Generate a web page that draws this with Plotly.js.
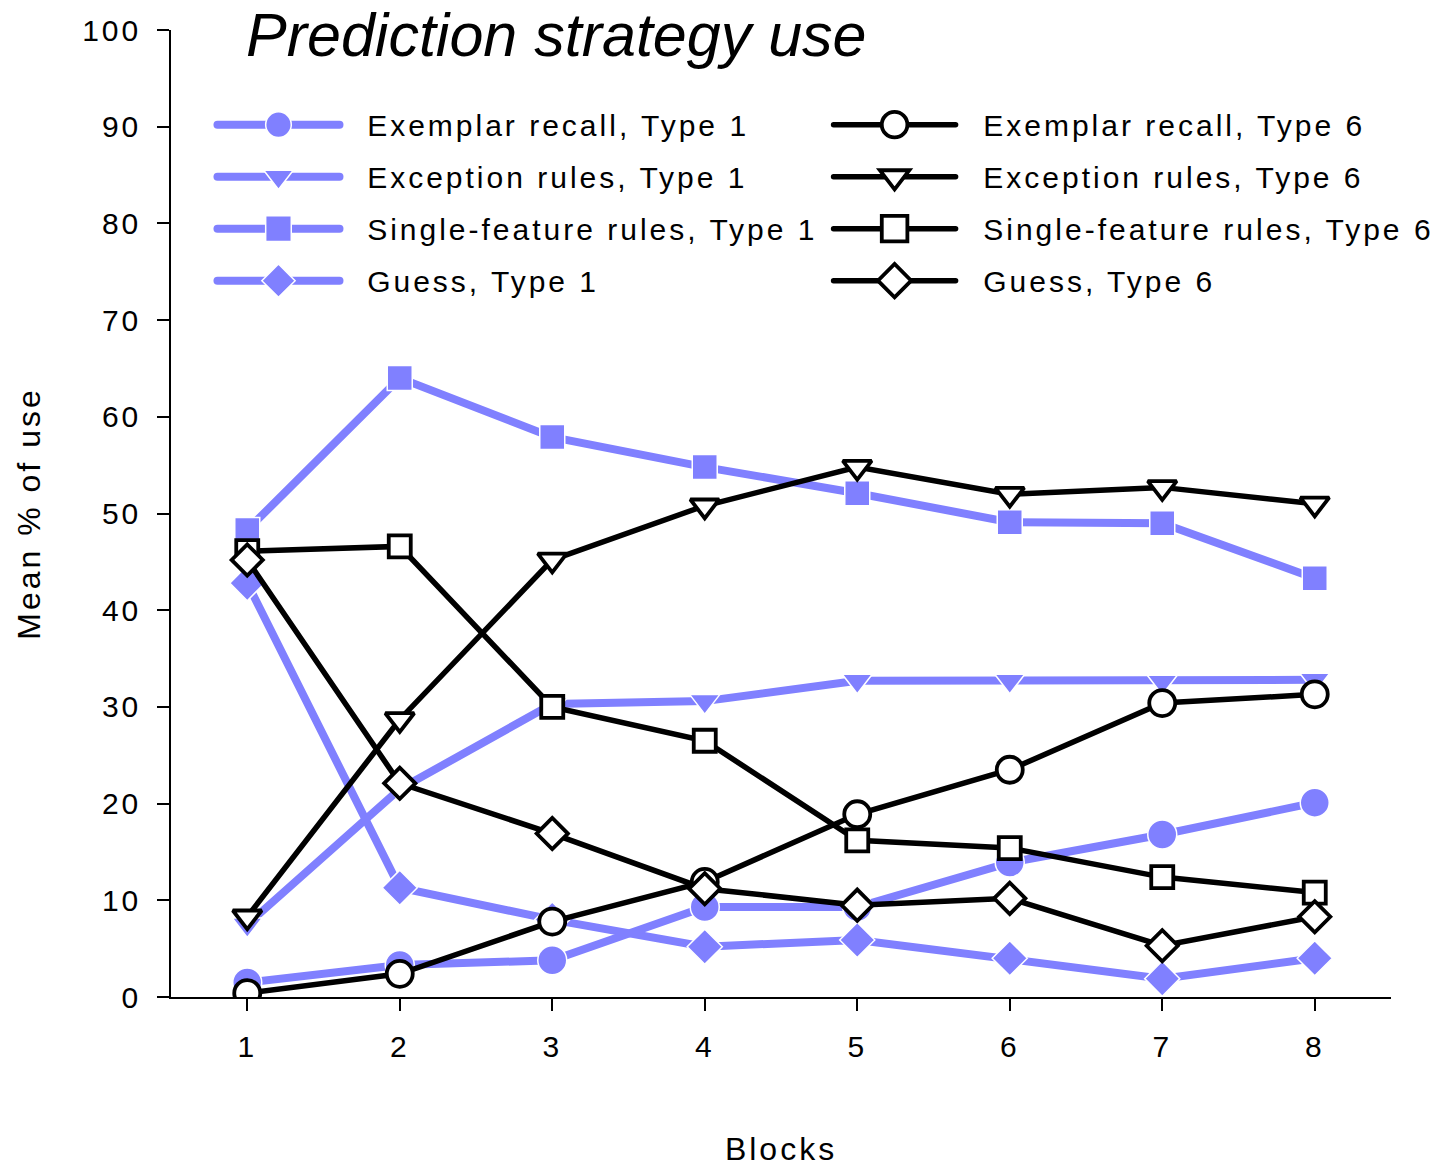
<!DOCTYPE html>
<html>
<head>
<meta charset="utf-8">
<script src="https://cdn.plot.ly/plotly-3.0.1.min.js"></script>
<style>
  html, body { margin: 0; padding: 0; background: #fff; }
  #chart { width: 1439px; height: 1167px; }
  .xtick text, .ytick text, .legendtext, .legend2text, .xtitle, .ytitle { letter-spacing: 3px; }
  .legendlines path { stroke-linecap: round; }
</style>
</head>
<body>
<div id="chart"></div>
<script>
// Mean percentage of use of each prediction strategy, per training block
const blocks = [1, 2, 3, 4, 5, 6, 7, 8];

const exemplarType1  = [1.5, 3.3, 3.8, 9.3, 9.3, 13.9, 16.8, 20.1];
const exceptionType1 = [7.5, 21.5, 30.3, 30.6, 32.7, 32.7, 32.6, 32.8];
const singleType1    = [48.3, 64.0, 57.9, 54.8, 52.1, 49.1, 49.0, 43.3];
const guessType1     = [42.8, 11.3, 8.0, 5.2, 5.9, 4.0, 1.9, 4.0];

const exemplarType6  = [0.4, 2.4, 7.8, 11.9, 18.9, 23.5, 30.4, 31.3];
const exceptionType6 = [8.3, 28.7, 45.2, 50.8, 54.8, 52.0, 52.7, 51.0];
const singleType6    = [46.1, 46.6, 30.0, 26.5, 16.2, 15.4, 12.4, 10.8];
const guessType6     = [45.2, 22.1, 16.9, 11.2, 9.5, 10.2, 5.3, 8.3];

const tickLabels = ['1', '2', '3', '4', '5', '6', '7', '8'];

const FONT = '"Liberation Sans", Arial, Helvetica, sans-serif';
const BLUE = '#8080ff';
const pad = '\u00a0\u00a0';

function type1Trace(name, y, symbol, size) {
  return {
    x: blocks, y: y, name: pad + name, type: 'scatter', mode: 'lines+markers',
    legend: 'legend', legendgroup: name,
    line: { color: BLUE, width: 8 },
    marker: { symbol: symbol, size: size, color: BLUE, line: { color: '#ffffff', width: 1.5 } },
    hoverinfo: 'x+y+name'
  };
}

function type6Trace(name, y, symbol, size) {
  return {
    x: blocks, y: y, name: pad + name, type: 'scatter', mode: 'lines+markers',
    legend: 'legend2', legendgroup: name,
    line: { color: '#000000', width: 5.5 },
    marker: { symbol: symbol, size: size, color: '#ffffff', line: { color: '#000000', width: 3.8 } },
    hoverinfo: 'x+y+name'
  };
}

const data = [
  type1Trace('Exemplar recall, Type 1', exemplarType1, 'circle', 29),
  type1Trace('Exception rules, Type 1', exceptionType1, 'triangle-down', 26),
  type1Trace('Single-feature rules, Type 1', singleType1, 'square', 25),
  type1Trace('Guess, Type 1', guessType1, 'diamond', 27),
  type6Trace('Exemplar recall, Type 6', exemplarType6, 'circle', 26),
  type6Trace('Exception rules, Type 6', exceptionType6, 'triangle-down', 25),
  type6Trace('Single-feature rules, Type 6', singleType6, 'square', 22),
  type6Trace('Guess, Type 6', guessType6, 'diamond', 24)
];

const legendCommon = {
  xanchor: 'left', yanchor: 'top', y: 0.929,
  orientation: 'v', traceorder: 'grouped',
  bgcolor: 'rgba(0,0,0,0)', borderwidth: 0,
  font: { family: FONT, size: 30, color: '#000' },
  itemwidth: 122, tracegroupgap: 10, itemclick: false, itemdoubleclick: false
};

const layout = {
  width: 1439, height: 1167,
  margin: { l: 171, r: 48, t: 30, b: 170, autoexpand: false },
  paper_bgcolor: '#ffffff', plot_bgcolor: '#ffffff',
  font: { family: FONT, color: '#000' },
  title: {
    text: 'Prediction strategy use',
    font: { family: FONT, size: 61, style: 'italic', color: '#000' },
    x: 246 / 1439, xanchor: 'left', xref: 'container',
    y: 1 - 35 / 1167, yanchor: 'middle', yref: 'container'
  },
  xaxis: {
    range: [0.5, 8.5], tickvals: blocks, ticktext: tickLabels,
    showgrid: false, zeroline: false, automargin: false,
    showline: true, linecolor: '#000', linewidth: 1.5,
    ticks: 'outside', ticklen: 12, tickwidth: 1.5, tickcolor: '#000',
    ticklabelstandoff: 10,
    tickfont: { family: FONT, size: 30, color: '#000' },
    title: { text: 'Blocks', font: { family: FONT, size: 32, color: '#000' }, standoff: 80 }
  },
  yaxis: {
    range: [0, 100], dtick: 10, tick0: 0,
    showgrid: false, zeroline: false, automargin: false,
    showline: true, linecolor: '#000', linewidth: 1.5,
    ticks: 'outside', ticklen: 12, tickwidth: 1.5, tickcolor: '#000',
    ticklabelstandoff: 10,
    tickfont: { family: FONT, size: 30, color: '#000' },
    title: { text: 'Mean % of use', font: { family: FONT, size: 32, color: '#000' }, standoff: 32 }
  },
  legend: Object.assign({}, legendCommon, { x: 0.034 }),
  legend2: Object.assign({}, legendCommon, { x: 0.539 }),
  showlegend: true
};

Plotly.newPlot('chart', data, layout, { displayModeBar: false, responsive: false }).then(function (gd) {
  // enlarge the legend symbols, keeping their outline widths
  gd.querySelectorAll('.legendpoints path.scatterpts').forEach(function (p) {
    const t = p.getAttribute('transform') || '';
    p.setAttribute('transform', t + ' scale(1.6)');
    p.style.vectorEffect = 'non-scaling-stroke';
  });
});
</script>
</body>
</html>
